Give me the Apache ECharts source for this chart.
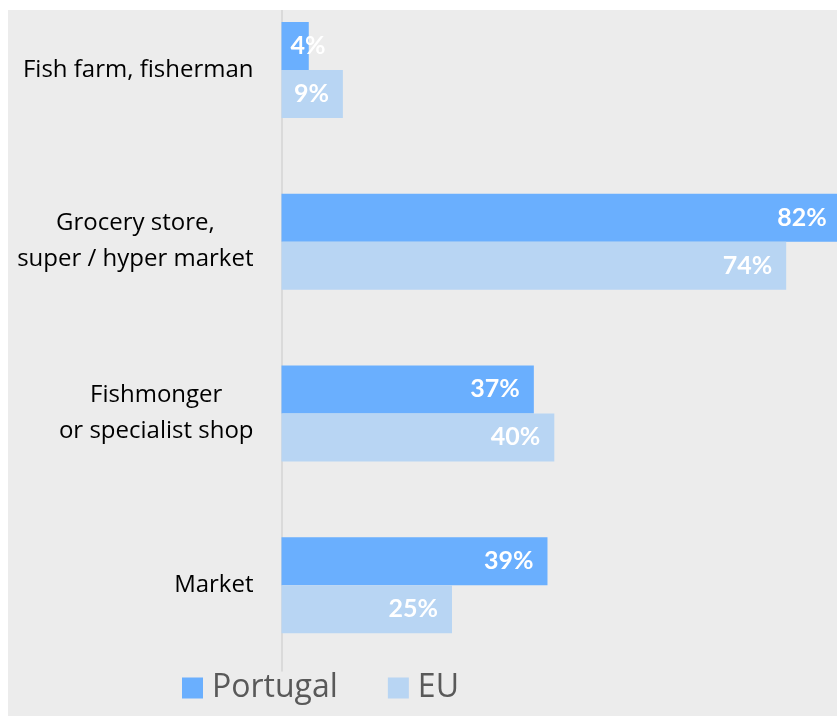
<!DOCTYPE html>
<html>
<head>
<meta charset="UTF-8">
<script src="https://cdn.jsdelivr.net/npm/echarts@6/dist/echarts.min.js"></script>
<style>
  html, body { margin: 0; padding: 0; background: #fff; }
  #chart { position: absolute; left: 8px; top: 10px; width: 829px; height: 706px; }
</style>
</head>
<body>
<div id="chart"></div>
<script>
// categories top to bottom
var categories = ['Fish farm, fisherman', 'Grocery store,\nsuper / hyper market', 'Fishmonger\nor specialist shop', 'Market'];
var portugal = [4, 82, 37, 39];
var eu = [9, 74, 40, 25];

var chart = echarts.init(document.getElementById('chart'));

var labelStyle = {
  show: true,
  position: 'insideRight',
  distance: 14,
  color: '#fff',
  fontFamily: 'Lato',
  fontWeight: 'bold',
  fontSize: 25,
  formatter: '{c}%'
};

// labels that do not fit inside a short bar start near the axis instead
function barData(values) {
  return values.map(function (v) {
    if (v < 6) {
      return { value: v, label: { position: 'insideLeft', distance: 9 } };
    }
    return v;
  });
}

var option = {
  backgroundColor: '#ececec',
  animation: false,
  grid: { left: 273.5, top: -26, width: 682, height: 687, outerBoundsMode: 'none' },
  legend: {
    data: ['Portugal', 'EU'],
    left: 169,
    top: 657,
    icon: 'rect',
    itemWidth: 21,
    itemHeight: 21,
    itemGap: 50,
    textStyle: { color: '#595959', fontSize: 32, fontFamily: 'Open Sans', padding: [0, 0, 0, 4] }
  },
  xAxis: {
    type: 'value',
    min: 0,
    max: 100,
    show: false,
    splitLine: { show: false }
  },
  yAxis: {
    type: 'category',
    inverse: true,
    data: categories,
    axisLine: { lineStyle: { color: '#d4d4d4', width: 1.5 } },
    axisTick: { show: false },
    axisLabel: {
      margin: 28,
      color: '#000',
      fontFamily: 'Open Sans',
      fontSize: 24,
      lineHeight: 36,
      formatter: function (v) {
        return v.split('\n').map(function (s) { return '{c|' + s + '}'; }).join('\n');
      },
      rich: { c: { align: 'center', fontFamily: 'Open Sans', fontSize: 24, lineHeight: 36, color: '#000' } }
    }
  },
  series: [
    {
      name: 'Portugal',
      type: 'bar',
      data: barData(portugal),
      barWidth: 48,
      barGap: '0%',
      itemStyle: { color: '#6aaffe' },
      label: labelStyle
    },
    {
      name: 'EU',
      type: 'bar',
      data: barData(eu),
      barWidth: 48,
      barGap: '0%',
      itemStyle: { color: '#b8d5f3' },
      label: labelStyle
    }
  ]
};

chart.setOption(option);
</script>
</body>
</html>
